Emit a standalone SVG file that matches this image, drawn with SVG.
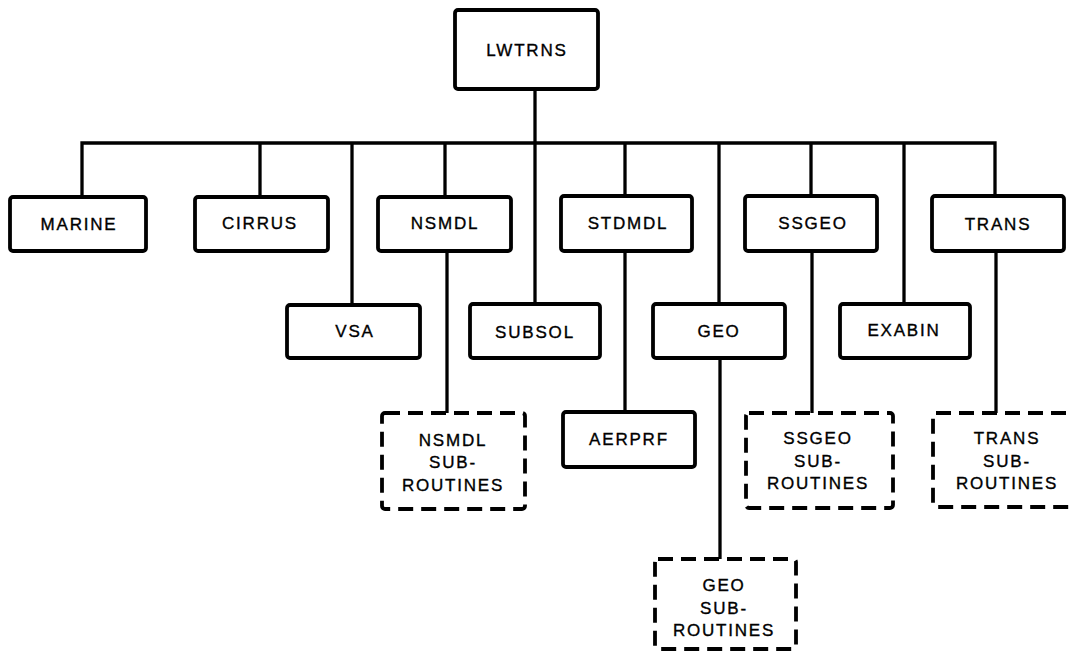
<svg xmlns="http://www.w3.org/2000/svg" width="1074" height="652" viewBox="0 0 1074 652">
<style>
.box{fill:#fff;stroke:#000;stroke-width:3.8;}
.dbox{fill:#fff;stroke:#000;stroke-width:3.8;stroke-dasharray:15 8;}
.lbl{font-family:"Liberation Sans",Arial,sans-serif;font-size:17px;letter-spacing:1.8px;fill:#000;stroke:#000;stroke-width:0.35;text-anchor:middle;dominant-baseline:central;}
.conn{fill:none;stroke:#000;stroke-width:3.3;}
</style>
<rect width="1074" height="652" fill="#fff"/>
<g id="connectors">
<path class="conn" d="M535 89 V306"/>
<path class="conn" d="M82 197 V143 H995 V197"/>
<path class="conn" d="M260 143 V197"/>
<path class="conn" d="M352 143 V305"/>
<path class="conn" d="M445 143 V197"/>
<path class="conn" d="M625 143 V197"/>
<path class="conn" d="M719 143 V305"/>
<path class="conn" d="M811 143 V197"/>
<path class="conn" d="M904 143 V305"/>
<path class="conn" d="M447 251 V413"/>
<path class="conn" d="M625 251 V412"/>
<path class="conn" d="M720 358 V559"/>
<path class="conn" d="M812 251 V413"/>
<path class="conn" d="M996 251 V413"/>
</g>
<g id="LWTRNS"><rect class="box" x="455" y="10" width="143" height="79" rx="3"/><text class="lbl" x="527" y="50">LWTRNS</text></g>
<g id="MARINE"><rect class="box" x="10" y="197" width="136" height="54" rx="3"/><text class="lbl" x="79" y="224">MARINE</text></g>
<g id="CIRRUS"><rect class="box" x="195" y="197" width="133" height="54" rx="3"/><text class="lbl" x="260" y="223">CIRRUS</text></g>
<g id="NSMDL"><rect class="box" x="378" y="197" width="133" height="54" rx="3"/><text class="lbl" x="445" y="223">NSMDL</text></g>
<g id="STDMDL"><rect class="box" x="561" y="196" width="131" height="55" rx="3"/><text class="lbl" x="628" y="223">STDMDL</text></g>
<g id="SSGEO"><rect class="box" x="745" y="196" width="132" height="55" rx="3"/><text class="lbl" x="813" y="223">SSGEO</text></g>
<g id="TRANS"><rect class="box" x="932" y="196" width="132" height="55" rx="3"/><text class="lbl" x="998" y="224">TRANS</text></g>
<g id="VSA"><rect class="box" x="287" y="305" width="133" height="53" rx="3"/><text class="lbl" x="355" y="331">VSA</text></g>
<g id="SUBSOL"><rect class="box" x="470" y="304" width="130" height="54" rx="3"/><text class="lbl" x="535" y="332">SUBSOL</text></g>
<g id="GEO"><rect class="box" x="653" y="304" width="132" height="54" rx="3"/><text class="lbl" x="719" y="331">GEO</text></g>
<g id="EXABIN"><rect class="box" x="840" y="304" width="130" height="54" rx="3"/><text class="lbl" x="904" y="330">EXABIN</text></g>
<g id="AERPRF"><rect class="box" x="563" y="412" width="132" height="55" rx="3"/><text class="lbl" x="629" y="439">AERPRF</text></g>
<g id="NSMDL_SUB"><rect class="dbox" x="382" y="413" width="143" height="96" rx="3"/><text class="lbl" x="453" y="440">NSMDL</text><text class="lbl" x="453" y="462">SUB-</text><text class="lbl" x="453" y="485">ROUTINES</text></g>
<g id="SSGEO_SUB"><rect class="dbox" x="746" y="413" width="147" height="95" rx="3"/><text class="lbl" x="818" y="438">SSGEO</text><text class="lbl" x="818" y="461">SUB-</text><text class="lbl" x="818" y="483">ROUTINES</text></g>
<g id="TRANS_SUB"><rect class="dbox" x="933" y="413" width="150" height="94" rx="3"/><text class="lbl" x="1007" y="438">TRANS</text><text class="lbl" x="1007" y="461">SUB-</text><text class="lbl" x="1007" y="483">ROUTINES</text></g>
<g id="GEO_SUB"><rect class="dbox" x="655" y="559" width="141" height="90" rx="3"/><text class="lbl" x="724" y="585">GEO</text><text class="lbl" x="724" y="608">SUB-</text><text class="lbl" x="724" y="630">ROUTINES</text></g>
</svg>
